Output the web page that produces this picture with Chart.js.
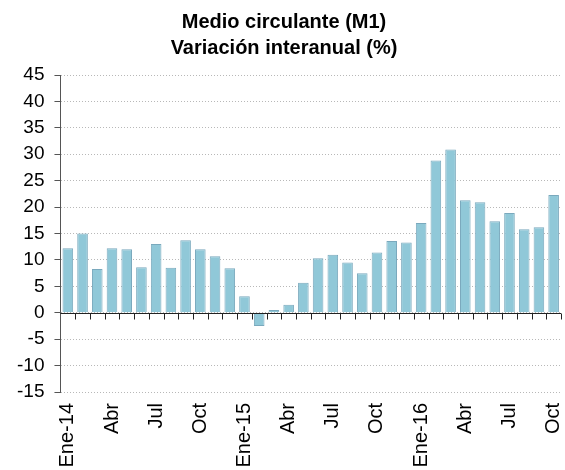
<!DOCTYPE html>
<html>
<head>
<meta charset="utf-8">
<script src="https://cdn.jsdelivr.net/npm/chart.js@4/dist/chart.umd.min.js"></script>
<style>
  html, body { margin: 0; padding: 0; background: #fff; }
  #wrap { width: 565px; height: 470px; }
</style>
</head>
<body>
<div id="wrap"><canvas id="c" width="565" height="470"></canvas></div>
<script>
const titleLines = ['Medio circulante (M1)', 'Variación interanual (%)'];
const months = ['Ene-14','Feb-14','Mar-14','Abr-14','May-14','Jun-14','Jul-14','Ago-14','Sep-14','Oct-14','Nov-14','Dic-14',
                'Ene-15','Feb-15','Mar-15','Abr-15','May-15','Jun-15','Jul-15','Ago-15','Sep-15','Oct-15','Nov-15','Dic-15',
                'Ene-16','Feb-16','Mar-16','Abr-16','May-16','Jun-16','Jul-16','Ago-16','Sep-16','Oct-16'];
const tickLabels = ['Ene-14','','','Abr','','','Jul','','','Oct','','',
                    'Ene-15','','','Abr','','','Jul','','','Oct','','',
                    'Ene-16','','','Abr','','','Jul','','','Oct'];
const m1Growth = [12.2, 15.0, 8.3, 12.2, 12.0, 8.6, 13.0, 8.5, 13.7, 12.0, 10.7, 8.4,
                  3.1, -2.5, 0.5, 1.5, 5.7, 10.3, 11.0, 9.5, 7.5, 11.4, 13.6, 13.3,
                  17.0, 28.8, 30.9, 21.3, 20.9, 17.3, 18.9, 15.8, 16.2, 22.3];
const yTicks = [-15, -10, -5, 0, 5, 10, 15, 20, 25, 30, 35, 40, 45];

const zeroLinePlugin = {
  id: 'zeroLine',
  afterDatasetsDraw(chart) {
    const { ctx, chartArea, scales } = chart;
    const y0 = Math.round(scales.y.getPixelForValue(0)) + 0.5;
    const xs = scales.x;
    const n = months.length;
    const half = (xs.getPixelForValue(1) - xs.getPixelForValue(0)) / 2;
    ctx.save();
    ctx.strokeStyle = '#222';
    ctx.lineWidth = 1;
    ctx.beginPath();
    ctx.moveTo(chartArea.left, y0);
    ctx.lineTo(chartArea.right, y0);
    for (let i = 0; i < n; i++) {
      const bx = Math.round(xs.getPixelForValue(i) + half) + 0.5;
      ctx.moveTo(bx, y0);
      ctx.lineTo(bx, y0 + 6);
    }
    ctx.stroke();
    ctx.restore();
  }
};

new Chart(document.getElementById('c'), {
  type: 'bar',
  data: {
    labels: months,
    datasets: [{
      data: m1Growth,
      backgroundColor: '#90c8d8',
      borderColor: '#7aa9bd',
      borderWidth: 1,
      barPercentage: 0.72,
      categoryPercentage: 1.0
    }]
  },
  options: {
    responsive: false,
    animation: false,
    layout: { padding: { left: 7, right: 4, top: 0, bottom: 0 } },
    plugins: {
      legend: { display: false },
      tooltip: { enabled: false },
      title: {
        display: true,
        text: titleLines,
        color: '#000',
        font: { family: 'Liberation Sans, Arial, sans-serif', size: 20, weight: 'bold', lineHeight: 1.3 },
        padding: { top: 9, bottom: 14 }
      }
    },
    scales: {
      x: {
        grid: { display: false, drawTicks: false },
        border: { display: false },
        afterFit: (scale) => { scale.paddingRight = 0; scale.paddingLeft = 0; scale.height = 78; },
        ticks: {
          autoSkip: false,
          maxRotation: 90,
          minRotation: 90,
          padding: 11,
          color: '#000',
          font: { family: 'Liberation Sans, Arial, sans-serif', size: 20 },
          callback: (v, i) => tickLabels[i]
        }
      },
      y: {
        min: -15,
        max: 45,
        afterBuildTicks: (axis) => { axis.ticks = yTicks.map(v => ({ value: v })); },
        grid: {
          color: '#b8b8b8',
          tickColor: '#555',
          tickLength: 6,
          drawTicks: true
        },
        border: { display: true, color: '#555', dash: [1, 2] },
        ticks: {
          padding: 10,
          color: '#000',
          font: { family: 'Liberation Sans, Arial, sans-serif', size: 19 }
        }
      }
    }
  },
  plugins: [zeroLinePlugin]
});
</script>
</body>
</html>
